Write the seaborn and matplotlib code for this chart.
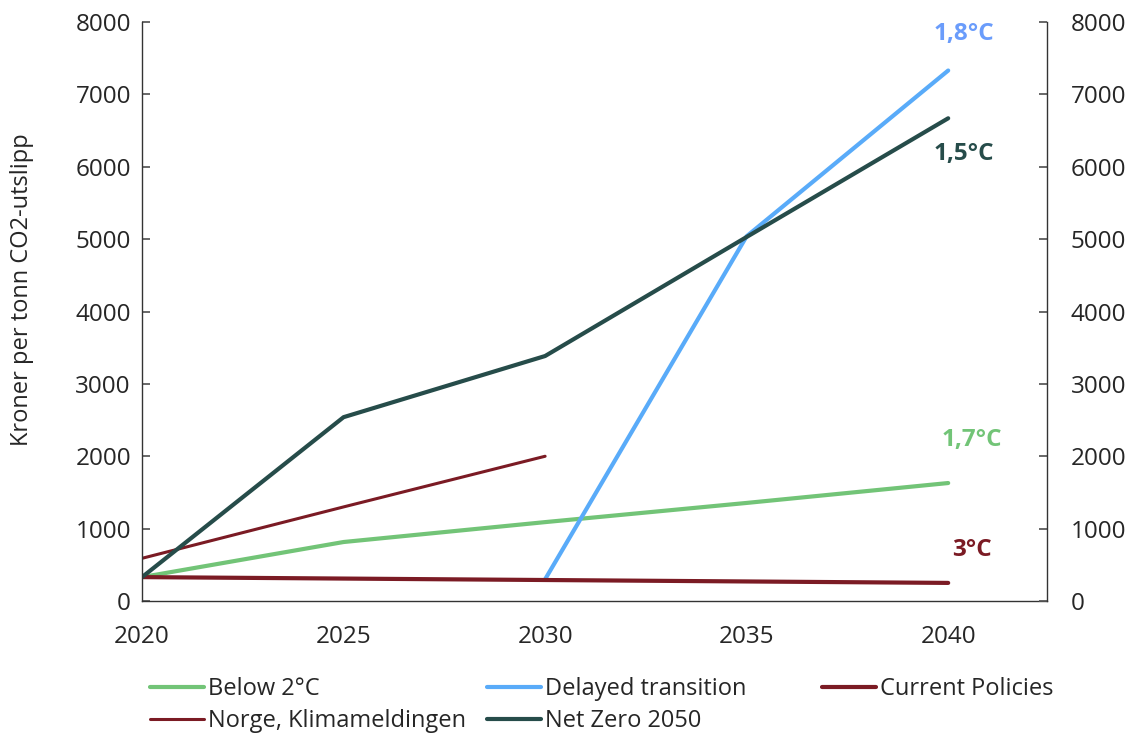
import matplotlib
matplotlib.use("Agg")
import matplotlib.pyplot as plt
import seaborn as sns
import pandas as pd

sns.set_theme(style="white")
plt.rcParams['font.family'] = ['Open Sans', 'DejaVu Sans']

years = [2020, 2025, 2030, 2035, 2040]
below2 = [330, 815, 1090, 1355, 1630]
delayed_years = [2030, 2035, 2040]
delayed = [300, 5040, 7330]
current = [330, 310, 290, 270, 250]
norge_years = [2020, 2025, 2030]
norge = [590, 1300, 2000]
netzero = [330, 2540, 3385, 5030, 6670]

ticks_y = [0, 1000, 2000, 3000, 4000, 5000, 6000, 7000, 8000]
ticks_x = [2020, 2025, 2030, 2035, 2040]

c_green = "#72c477"
c_blue = "#59abf9"
c_red = "#7b1b24"
c_teal = "#264c4a"

FS = 17

fig = plt.figure(figsize=(11.30, 7.34), dpi=100)
ax = fig.add_axes([0.1257, 0.1812, 0.8008, 0.7888])

def draw(x, y, color, label, lw):
    df = pd.DataFrame({"x": x, "y": y})
    sns.lineplot(data=df, x="x", y="y", ax=ax, color=color, label=label,
                 linewidth=lw, solid_capstyle="round")

draw(years, below2, c_green, "Below 2°C", 3.0)
draw(delayed_years, delayed, c_blue, "Delayed transition", 3.0)
draw(years, current, c_red, "Current Policies", 3.0)
draw(norge_years, norge, c_red, "Norge, Klimameldingen", 2.2)
draw(years, netzero, c_teal, "Net Zero 2050", 3.0)

ax.set_xlim(2020, 2042.45)
ax.set_ylim(0, 8000)
ax.set_xticks(ticks_x)
ax.set_yticks(ticks_y)
ax.set_xlabel("")
ax.set_ylabel("Kroner per tonn CO2-utslipp", fontsize=FS)
ax.yaxis.set_label_coords(-0.119, 0.537)
ax.tick_params(axis="both", labelsize=17.5, direction="in", length=6, color="#555555")
ax.tick_params(axis="x", pad=17)
ax.tick_params(axis="y", pad=8)

ax2 = ax.twinx()
ax2.set_ylim(0, 8000)
ax2.set_yticks(ticks_y)
ax2.tick_params(axis="y", labelsize=17.5, direction="in", length=6, color="#555555", pad=17)

for a in (ax, ax2):
    a.spines["top"].set_visible(False)
    for s in ("left", "right", "bottom"):
        a.spines[s].set_color("#333333")
        a.spines[s].set_linewidth(1.0)
ax2.spines["left"].set_visible(False)
ax2.spines["bottom"].set_visible(False)
ax.spines["right"].set_visible(False)

lab_fs = 17.5
ax.text(2040.4, 7830, "1,8°C", color="#6a9cfb", fontsize=lab_fs, fontweight="bold", ha="center", va="center")
ax.text(2040.4, 6170, "1,5°C", color=c_teal, fontsize=lab_fs, fontweight="bold", ha="center", va="center")
ax.text(2040.6, 2220, "1,7°C", color=c_green, fontsize=lab_fs, fontweight="bold", ha="center", va="center")
ax.text(2040.6, 700, "3°C", color=c_red, fontsize=lab_fs, fontweight="bold", ha="center", va="center")

handles, labels = ax.get_legend_handles_labels()
if ax.legend_:
    ax.legend_.remove()

cols = [[0, 3], [1, 4], [2]]
col_x = [150 / 1130, 487 / 1130, 822 / 1130]
for xs, idx in zip(col_x, cols):
    fig.legend([handles[i] for i in idx], [labels[i] for i in idx],
               loc="upper left", bbox_to_anchor=(xs, 1 - 677 / 734),
               ncol=1, frameon=False, fontsize=FS, handlelength=2.3, handletextpad=0.15,
               labelspacing=0.33, borderaxespad=0, borderpad=0)

fig.savefig("out.png", dpi=100)
